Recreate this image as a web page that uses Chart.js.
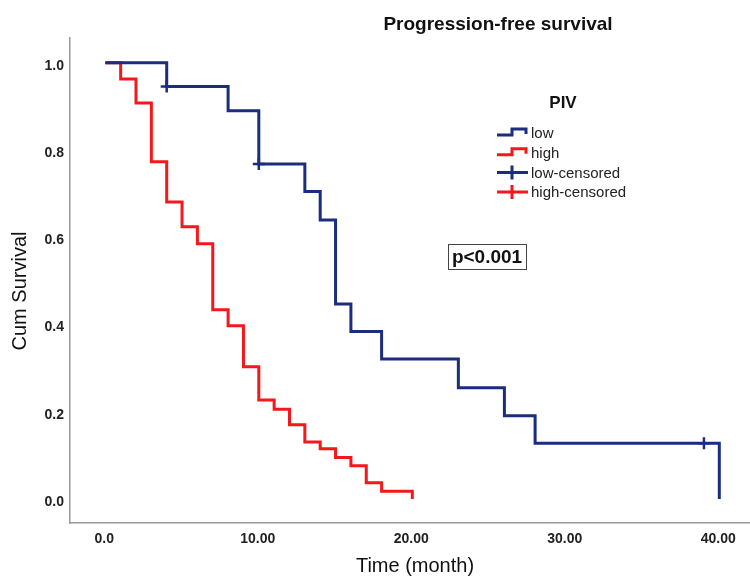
<!DOCTYPE html>
<html>
<head>
<meta charset="utf-8">
<title>Progression-free survival</title>
<script src="https://cdn.jsdelivr.net/npm/chart.js@4.4.1/dist/chart.umd.min.js"></script>
<style>
  html, body { margin: 0; padding: 0; background: #fff; }
  #wrap { width: 750px; height: 588px; position: relative; }
</style>
</head>
<body>
<div id="wrap"><canvas id="kmChart"></canvas></div>
<script>
// Kaplan-Meier steps (time in months -> cum survival after the drop)
const lowTimes  = [0, 4, 8, 10, 13, 14, 15, 16, 18, 23, 26, 28, 40];
const lowSurv   = [1.0, 0.946, 0.89, 0.768, 0.705, 0.64, 0.447, 0.384, 0.321, 0.255, 0.191, 0.128, 0.0];
const highTimes = [0, 1, 2, 3, 4, 5, 6, 7, 8, 9, 10, 11, 12, 13, 14, 15, 16, 17, 18, 20];
const highSurv  = [1.0, 0.963, 0.908, 0.773, 0.681, 0.624, 0.585, 0.434, 0.397, 0.303, 0.227, 0.206, 0.170, 0.131, 0.115, 0.095, 0.076, 0.037, 0.018, 0.0];

// censored cases (only the low group has visible ticks)
const lowCensorTimes  = [4, 10, 39];
const lowCensorSurv   = [0.946, 0.768, 0.128];
const highCensorTimes = [];
const highCensorSurv  = [];

const groupLabels = ['low', 'high', 'low-censored', 'high-censored'];
const xTickValues = [0, 10, 20, 30, 40];
const xTickLabels = ['0.0', '10.00', '20.00', '30.00', '40.00'];
const yTickValues = [0, 0.2, 0.4, 0.6, 0.8, 1.0];
const pValueText  = 'p<0.001';

const LOW_COLOR = '#1b2d7e';
const HIGH_COLOR = '#f2191c';
const FONT = "'Liberation Sans', Arial, sans-serif";

function toPoints(xs, ys) {
    return xs.map((x, i) => ({ x: x, y: ys[i] }));
}

// title, axis titles, legend block and p-value box placed like the SPSS output
const overlayPlugin = {
    id: 'kmOverlay',
    afterDraw(chart) {
        const ctx = chart.ctx;
        ctx.save();

        ctx.fillStyle = '#111';
        ctx.textAlign = 'center';
        ctx.textBaseline = 'middle';
        ctx.font = 'bold 19px ' + FONT;
        ctx.fillText('Progression-free survival', 498, 25);

        // axis titles
        ctx.font = '20px ' + FONT;
        ctx.fillText('Time (month)', 415, 566);
        ctx.save();
        ctx.translate(20, 291);
        ctx.rotate(-Math.PI / 2);
        ctx.fillText('Cum Survival', 0, 0);
        ctx.restore();

        // legend
        ctx.font = 'bold 17px ' + FONT;
        ctx.fillText('PIV', 563, 103);

        const colors = [LOW_COLOR, HIGH_COLOR, LOW_COLOR, HIGH_COLOR];
        ctx.font = '15px ' + FONT;
        ctx.textAlign = 'left';
        groupLabels.forEach((label, i) => {
            const y = 133 + i * 19.7;
            ctx.strokeStyle = colors[i];
            ctx.lineWidth = 3;
            ctx.beginPath();
            if (i < 2) {
                ctx.moveTo(497, y + 2);
                ctx.lineTo(512, y + 2);
                ctx.lineTo(512, y - 4);
                ctx.lineTo(526, y - 4);
                ctx.lineTo(526, y + 1);
            } else {
                ctx.moveTo(497, y);
                ctx.lineTo(528, y);
                ctx.moveTo(512, y - 7);
                ctx.lineTo(512, y + 7);
            }
            ctx.stroke();
            ctx.fillStyle = '#222';
            ctx.fillText(label, 531, y + 1);
        });

        // p value
        ctx.font = 'bold 19px ' + FONT;
        ctx.textAlign = 'center';
        const w = ctx.measureText(pValueText).width;
        const cx = 487, cy = 257;
        ctx.fillStyle = '#111';
        ctx.fillText(pValueText, cx, cy + 1);
        ctx.strokeStyle = '#444';
        ctx.lineWidth = 1;
        ctx.strokeRect(Math.round(cx - w / 2 - 4) + 0.5, cy - 12.5, Math.round(w + 8), 25);

        ctx.restore();
    }
};

const tickFont = { family: FONT, size: 14, weight: 'bold' };

new Chart(document.getElementById('kmChart'), {
    type: 'line',
    data: {
        datasets: [
            {
                label: groupLabels[0],
                data: toPoints(lowTimes, lowSurv),
                borderColor: LOW_COLOR,
                borderWidth: 3,
                stepped: 'before',
                pointRadius: 0,
                fill: false
            },
            {
                label: groupLabels[1],
                data: toPoints(highTimes, highSurv),
                borderColor: HIGH_COLOR,
                borderWidth: 3,
                stepped: 'before',
                pointRadius: 0,
                fill: false
            },
            {
                label: groupLabels[2],
                type: 'scatter',
                data: toPoints(lowCensorTimes, lowCensorSurv),
                borderColor: LOW_COLOR,
                backgroundColor: LOW_COLOR,
                pointStyle: 'cross',
                pointRadius: 6,
                borderWidth: 2.5,
                showLine: false
            },
            {
                label: groupLabels[3],
                type: 'scatter',
                data: toPoints(highCensorTimes, highCensorSurv),
                borderColor: HIGH_COLOR,
                backgroundColor: HIGH_COLOR,
                pointStyle: 'cross',
                pointRadius: 6,
                borderWidth: 2.5,
                showLine: false
            }
        ]
    },
    options: {
        responsive: true,
        maintainAspectRatio: false,
        animation: false,
        layout: {
            autoPadding: false,
            padding: { top: 38, right: 0, bottom: 0, left: 0 }
        },
        plugins: {
            legend: { display: false },
            tooltip: { enabled: false },
            title: { display: false }
        },
        scales: {
            x: {
                type: 'linear',
                min: -2.3,
                max: 42,
                grid: { display: false, drawTicks: false },
                border: { display: true, color: '#9a9a9a', width: 1.5 },
                afterBuildTicks: scale => {
                    scale.ticks = xTickValues.map(v => ({ value: v }));
                },
                ticks: {
                    callback: (value, index) => xTickLabels[index],
                    font: tickFont,
                    color: '#222',
                    padding: 8,
                    maxRotation: 0,
                    labelOffset: -1
                },
                afterFit: scale => {
                    scale.height = 65;
                    scale.paddingLeft = 0;
                    scale.paddingRight = 0;
                }
            },
            y: {
                type: 'linear',
                min: -0.055,
                max: 1.057,
                grid: { display: false, drawTicks: false },
                border: { display: true, color: '#9a9a9a', width: 1.5 },
                afterBuildTicks: scale => {
                    scale.ticks = yTickValues.map(v => ({ value: v }));
                },
                ticks: {
                    callback: value => value.toFixed(1),
                    font: tickFont,
                    color: '#222',
                    padding: 6,
                    labelOffset: 3
                },
                afterFit: scale => { scale.width = 70; }
            }
        }
    },
    plugins: [overlayPlugin]
});
</script>
</body>
</html>
